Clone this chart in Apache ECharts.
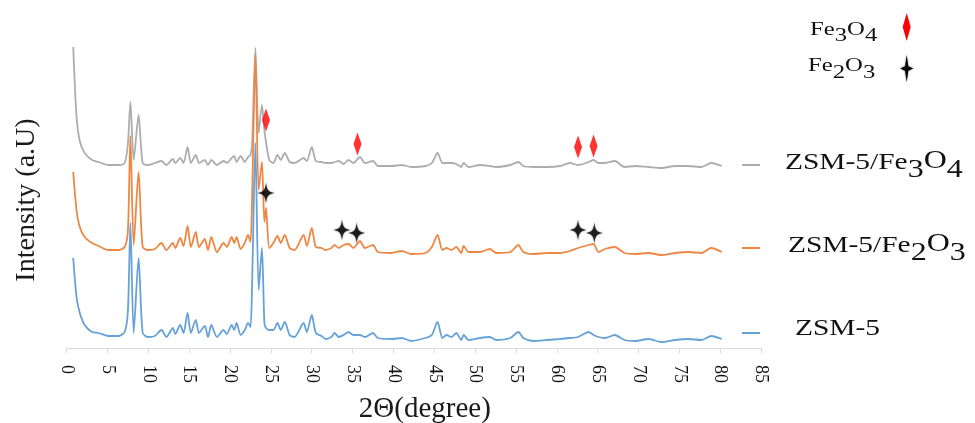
<!DOCTYPE html>
<html><head><meta charset="utf-8">
<script src="https://cdn.jsdelivr.net/npm/echarts@6/dist/echarts.min.js"></script>
<style>html,body{margin:0;padding:0;background:#fff}#c{width:975px;height:423px}</style>
</head><body><div id="c"></div>
<script>
// 2θ positions (degree)
const twoTheta = [0.8,1.2,1.6,2.2,3.1,3.9,5.1,6.3,7.1,7.5,
  7.8,8.2,8.8,9.3,10.0,10.8,11.6,12.2,13.0,13.3,
  13.9,14.3,14.8,15.2,15.8,16.2,16.9,17.3,17.7,18.4,
  19.2,19.6,20.2,20.5,20.8,21.3,21.8,22.2,22.5,22.7,
  23.1,23.5,23.9,24.2,24.4,24.8,25.3,25.8,26.2,26.7,
  27.3,27.9,29.0,29.4,30.0,30.5,31.2,31.7,32.4,32.8,
  33.3,33.9,34.5,35.1,35.9,36.5,37.5,38.1,39.8,41.0,
  42.2,43.9,44.7,45.4,46.0,46.5,47.1,47.7,48.3,48.6,
  49.2,50.6,51.8,52.6,54.3,55.3,55.9,57.1,58.8,60.4,
  61.6,62.6,63.9,64.5,65.1,65.9,67.1,68.3,69.6,71.2,
  72.8,74.5,76.1,77.7,78.9,80.2];
// Intensity (a.U), stacked offsets as in picture
const zsm5 = [90,51,35,23,16,15,12,12,16,38,
  125,15,90,15,11,12,18,11,20,14,
  23,15,35,15,28,15,22,11,23,11,
  18,14,23,18,25,13,18,25,21,65,
  205,58,100,25,20,18,18,25,18,26,
  13,11,25,16,33,15,12,9,11,15,
  11,13,16,13,13,11,15,10,9,10,
  7,10,13,26,10,13,11,15,8,13,
  8,10,11,8,10,16,10,7,8,9,
  10,11,16,13,11,10,13,8,7,9,
  6,8,9,8,12,9];
const zsm5Fe2O3 = [176,138,121,111,105,102,98,98,101,118,
  212,103,176,101,98,99,105,98,105,100,
  110,102,122,101,116,101,109,98,111,96,
  105,101,111,105,111,99,105,113,106,151,
  293,158,186,126,140,100,105,112,105,113,
  100,98,113,102,120,101,100,98,100,103,
  100,103,104,100,107,100,103,96,95,97,
  94,95,101,113,98,100,98,101,95,102,
  96,96,99,95,96,103,96,94,95,95,
  97,100,103,104,96,99,101,95,94,95,
  93,95,96,95,100,96];
const zsm5Fe3O4 = [301,232,207,195,188,186,183,183,185,205,
  246,188,233,185,183,185,187,183,189,185,
  190,185,201,185,193,185,188,183,188,183,
  187,185,190,192,186,192,186,191,193,205,
  300,215,243,218,206,188,185,193,188,195,
  186,185,190,187,201,187,186,185,185,186,
  187,184,188,185,191,185,187,182,182,183,
  181,182,185,195,185,185,185,184,181,185,
  181,183,182,181,183,186,182,181,181,182,
  185,183,186,188,185,185,187,181,182,181,
  180,182,182,181,185,182];
// peak markers [2θ, intensity]
const fe3o4Peaks = [[24.4,228],[35.6,204],[62.6,201],[64.5,202]];
const fe2o3Peaks = [[24.4,155],[33.7,118],[35.5,115],[62.6,118],[64.6,115]];
const xMin = 0, xMax = 85, xStep = 5;

const FONT = 'Liberation Serif';
const starPath = 'path://M0,-10C1.1,-2.6 2.6,-1.1 10,0C2.6,1.1 1.1,2.6 0,10C-1.1,2.6 -2.6,1.1 -10,0C-2.6,-1.1 -1.1,-2.6 0,-10Z';
const pairs = arr => twoTheta.map((t, i) => [t, arr[i]]);

function richLabel(x, y, text, size, sub, shift, sx) {
  return {
    type: 'text', x: x, y: y, scaleX: sx, z: 10,
    style: {
      text: text, align: 'left', verticalAlign: 'middle',
      rich: {
        n: {fontFamily: FONT, fontSize: size, fill: '#111', verticalAlign: 'top', lineHeight: size + 1},
        o: {fontFamily: FONT, fontSize: sub, fill: '#111', verticalAlign: 'top', lineHeight: size + 1, padding: [size - sub, 0, 0, 0]},
        s: {fontFamily: FONT, fontSize: sub, fill: '#111', verticalAlign: 'bottom', lineHeight: size + 1 + shift}
      }
    }
  };
}

const chart = echarts.init(document.getElementById('c'));
chart.setOption({
  animation: false,
  backgroundColor: '#fff',
  grid: {left: 66.7, right: 214, top: 38, bottom: 75, containLabel: false, outerBoundsMode: 'none'},
  xAxis: {
    type: 'value', min: xMin, max: xMax, interval: xStep,
    name: '2Θ(degree)', nameLocation: 'middle', nameGap: 47,
    nameTextStyle: {fontFamily: FONT, fontSize: 29, color: '#1a1a1a', padding: [0, 0, 0, 22]},
    axisLine: {lineStyle: {color: '#d9d9d9', width: 1}},
    axisTick: {show: true, length: 5, lineStyle: {color: '#d9d9d9'}},
    axisLabel: {rotate: -90, fontFamily: FONT, fontSize: 18, color: '#111', margin: 17},
    splitLine: {show: false}
  },
  yAxis: {
    type: 'value', min: 0, max: 310,
    name: 'Intensity (a.U)', nameLocation: 'middle', nameGap: 26, nameRotate: 90,
    nameTextStyle: {fontFamily: FONT, fontSize: 28, color: '#1a1a1a', padding: [0, 14, 0, 0]},
    axisLine: {show: false}, axisTick: {show: false}, axisLabel: {show: false}, splitLine: {show: false}
  },
  series: [
    {name: 'ZSM-5/Fe3O4', type: 'line', data: pairs(zsm5Fe3O4), showSymbol: false, smooth: 0.25,
     lineStyle: {color: '#ADADAD', width: 1.8}, itemStyle: {color: '#ADADAD'}, z: 2},
    {name: 'ZSM-5/Fe2O3', type: 'line', data: pairs(zsm5Fe2O3), showSymbol: false, smooth: 0.25,
     lineStyle: {color: '#EF8744', width: 1.8}, itemStyle: {color: '#EF8744'}, z: 3},
    {name: 'ZSM-5', type: 'line', data: pairs(zsm5), showSymbol: false, smooth: 0.25,
     lineStyle: {color: '#66A2D8', width: 1.8}, itemStyle: {color: '#66A2D8'}, z: 4},
    {name: 'Fe3O4', type: 'scatter', data: fe3o4Peaks, symbol: 'diamond', symbolSize: [8, 23],
     itemStyle: {color: '#ff0000'}, z: 6},
    {name: 'Fe2O3', type: 'scatter', data: fe2o3Peaks, symbol: starPath, symbolSize: [17, 21],
     itemStyle: {color: '#000', shadowBlur: 2, shadowColor: 'rgba(0,0,0,0.6)'}, z: 6}
  ],
  graphic: [
    {type: 'line', shape: {x1: 742, y1: 165, x2: 760, y2: 165}, style: {stroke: '#ADADAD', lineWidth: 2}},
    {type: 'line', shape: {x1: 742, y1: 248, x2: 760, y2: 248}, style: {stroke: '#EF8744', lineWidth: 2}},
    {type: 'line', shape: {x1: 742, y1: 333, x2: 760, y2: 333}, style: {stroke: '#66A2D8', lineWidth: 2}},
    richLabel(785, 167, '{n|ZSM-5/Fe}{s|3}{o|O}{s|4}', 23, 25, 8, 1.28),
    richLabel(788, 250, '{n|ZSM-5/Fe}{s|2}{o|O}{s|3}', 23, 25, 8, 1.28),
    richLabel(795, 329, '{n|ZSM-5}', 23, 23, 0, 1.28),
    richLabel(810, 33, '{n|Fe}{s|3}{n|O}{s|4}', 19, 19, 5, 1.3),
    richLabel(808, 70, '{n|Fe}{s|2}{n|O}{s|3}', 19, 19, 6, 1.3),
    {type: 'polygon', shape: {points: [[906.7, 13], [910.7, 27], [906.7, 41], [902.7, 27]]}, style: {fill: '#ff0000'}},
    {type: 'polygon', shape: {points: [[906.7, 55], [908.3, 66.2], [913.2, 68.5], [908.3, 70.8], [906.7, 82], [905.1, 70.8], [900.2, 68.5], [905.1, 66.2]]},
     style: {fill: '#000', shadowBlur: 2, shadowColor: 'rgba(0,0,0,0.6)'}}
  ]
});
</script></body></html>
